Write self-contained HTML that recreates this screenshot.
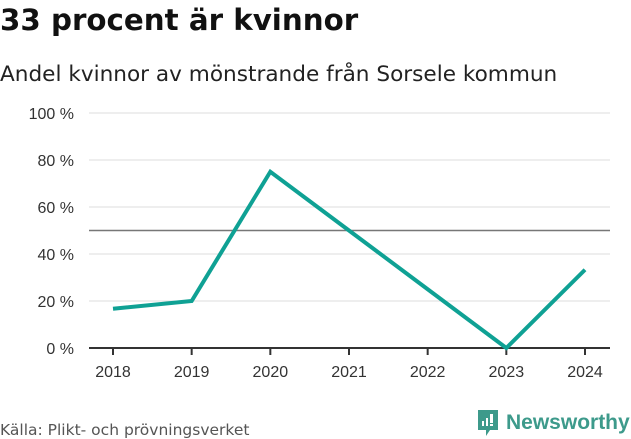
<!DOCTYPE html>
<html><head><meta charset="utf-8"><style>
body{margin:0;width:631px;height:439px;background:#fff;font-family:"Liberation Sans","DejaVu Sans",sans-serif;overflow:hidden;position:relative}
.t{position:absolute;left:0;margin:0;white-space:nowrap;color:#111;font-family:"DejaVu Sans",sans-serif}
</style></head><body>
<h1 class="t" style="top:3px;font-size:29.3px;font-weight:bold">33 procent är kvinnor</h1>
<div class="t" style="top:62px;font-size:21.6px;color:#222">Andel kvinnor av mönstrande från Sorsele kommun</div>
<svg id="c" width="631" height="439" style="position:absolute;left:0;top:0"></svg>
<div class="t" style="top:421px;font-size:15.5px;color:#555">Källa: Plikt- och prövningsverket</div>
<div style="position:absolute;left:476px;top:408px;display:flex;align-items:center">
<svg width="24" height="30"><path d="M2 2h20v20h-8l-4 6v-6H2z" fill="#3d9a8b"/><rect x="6" y="13" width="2" height="5" fill="#fff"/><rect x="10" y="10" width="2" height="8" fill="#fff"/><rect x="14" y="6" width="3" height="9" fill="#fff"/><rect x="14" y="16" width="3" height="2" fill="#fff"/></svg>
<span style="font-size:21px;font-weight:bold;color:#3d9a8b;margin-left:6px">Newsworthy</span></div>
<script>
const categories=["2018","2019","2020","2021","2022","2023","2024"];
const values=[16.7,20,75,50,25,0,33.3];
const yTicks=[0,20,40,60,80,100];
const refValue=50;
const svg=document.getElementById('c');const NS='http://www.w3.org/2000/svg';
const x0=113,x1=585,yb=348,yt=113,left=89,right=610;
const X=i=>x0+(x1-x0)*i/(categories.length-1);
const Y=v=>yb-(yb-yt)*v/100;
function mk(t,a){const e=document.createElementNS(NS,t);for(const k in a)e.setAttribute(k,a[k]);svg.appendChild(e);return e;}
yTicks.forEach(v=>{
 if(v>0){const g=mk('line',{x1:left,x2:right,y1:Y(v),y2:Y(v),stroke:'#ddd','stroke-width':1});
 
 }
 const t=mk('text',{x:74,y:Y(v)+6,'text-anchor':'end','font-size':16,fill:'#333'});t.textContent=v+' %';
 
 
});
const r=mk('line',{x1:left,x2:right,y1:Y(refValue),y2:Y(refValue),stroke:'#777','stroke-width':1.5});


const ax=mk('line',{x1:left,x2:right,y1:yb,y2:yb,stroke:'#333','stroke-width':2});


categories.forEach((c,i)=>{
 const tk=mk('line',{x1:X(i),x2:X(i),y1:yb,y2:yb+7,stroke:'#333','stroke-width':2});
 
 
 const t=mk('text',{x:X(i),y:yb+29,'text-anchor':'middle','font-size':16,fill:'#333'});t.textContent=c;
 
 
});
const p=mk('polyline',{points:values.map((v,i)=>X(i)+','+Y(v)).join(' '),fill:'none',stroke:'#0fa194','stroke-width':4,'stroke-linejoin':'miter'});


</script>
</body></html>
